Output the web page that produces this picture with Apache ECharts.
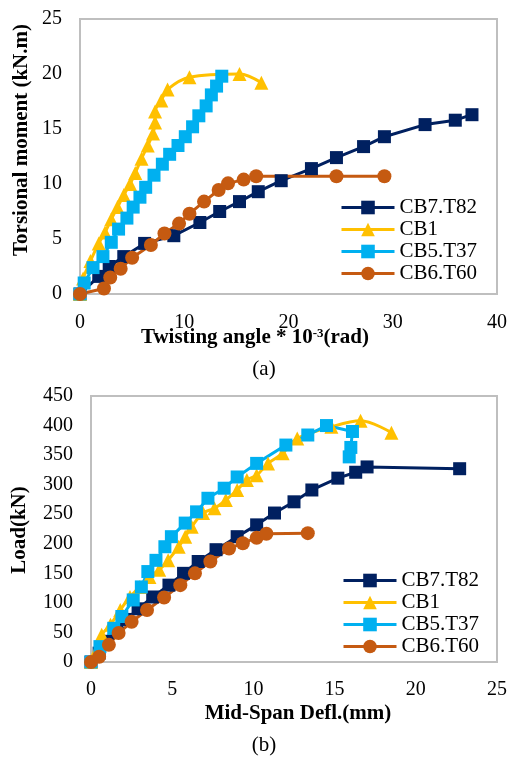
<!DOCTYPE html>
<html>
<head>
<meta charset="utf-8">
<script src="https://cdn.jsdelivr.net/npm/echarts@6/dist/echarts.min.js"></script>
<style>
html, body {margin: 0; padding: 0; background: #fff;}
#chart {width: 511px; height: 758px;}
</style>
</head>
<body>
<div id="chart"></div>
<script>
// (a) 扭矩 - 扭转角
var torCB7x = [0, 1.8, 2.8, 4.2, 6.2, 9.0, 11.5, 13.4, 15.3, 17.1, 19.3, 22.2, 24.6, 27.2, 29.2, 33.1, 36.0, 37.6];
var torCB7y = [0, 1.6, 2.5, 3.4, 4.6, 5.3, 6.5, 7.5, 8.4, 9.3, 10.3, 11.4, 12.4, 13.4, 14.3, 15.4, 15.8, 16.3];
var torCB1x = [0, 0.3, 1.0, 1.8, 2.4, 3.0, 3.6, 4.2, 4.8, 5.3, 5.9, 6.5, 7.0, 7.2, 7.2, 7.8, 8.4, 10.5, 15.3, 17.4];
var torCB1y = [0, 1.4, 3.0, 4.6, 5.6, 6.8, 7.9, 9.0, 10.0, 11.0, 12.3, 13.5, 14.6, 15.6, 16.6, 17.6, 18.6, 19.7, 20.0, 19.2];
var torCB5x = [0, 0.4, 1.25, 2.2, 3.0, 3.7, 4.5, 5.1, 5.75, 6.3, 7.1, 7.9, 8.6, 9.4, 10.1, 10.8, 11.4, 12.1, 12.6, 13.1, 13.6];
var torCB5y = [0, 1.0, 2.4, 3.4, 4.7, 5.9, 6.9, 7.9, 8.8, 9.7, 10.8, 11.8, 12.7, 13.5, 14.3, 15.2, 16.2, 17.1, 18.1, 18.9, 19.8];
var torCB6x = [0, 2.3, 2.9, 3.9, 5.0, 6.8, 8.1, 9.5, 10.5, 11.9, 13.3, 14.2, 15.7, 16.9, 24.6, 29.2];
var torCB6y = [0, 0.5, 1.5, 2.3, 3.3, 4.45, 5.5, 6.4, 7.3, 8.4, 9.45, 10.06, 10.4, 10.7, 10.7, 10.7];

// (b) 荷载 - 跨中挠度
var ldCB7x = [0, 0.5, 1.0, 1.6, 2.2, 2.9, 3.8, 4.8, 5.7, 6.6, 7.7, 9.0, 10.2, 11.3, 12.5, 13.6, 15.2, 16.3, 17.0, 22.7];
var ldCB7y = [0, 15, 35, 55, 72, 90, 110, 130, 150, 170, 190, 212, 232, 252, 271, 291, 311, 321, 330, 327];
var ldCB1x = [0, 0.3, 0.66, 1.2, 1.8, 2.4, 3.0, 3.6, 4.2, 4.75, 5.4, 5.8, 6.2, 6.9, 7.6, 8.3, 9.0, 9.6, 10.2, 10.9, 11.8, 12.7, 14.8, 16.6, 18.5];
var ldCB1y = [0, 17, 46, 63, 88, 110, 127, 144, 156, 172, 195, 212, 229, 252, 260, 274, 291, 308, 316, 336, 353, 378, 398, 408, 388];
var ldCB5x = [0, 0.55, 1.4, 1.9, 2.6, 3.1, 3.5, 4.0, 4.55, 4.95, 5.8, 6.5, 7.2, 8.2, 9.0, 10.2, 12.0, 13.35, 14.5, 16.1, 16.0, 15.9];
var ldCB5y = [0, 26, 57, 77, 105, 127, 153, 172, 195, 212, 235, 254, 277, 294, 313, 336, 367, 384, 400, 390, 363, 347];
var ldCB6x = [0, 0.5, 1.1, 1.7, 2.5, 3.45, 4.5, 5.5, 6.4, 7.35, 8.5, 9.35, 10.2, 10.8, 13.35];
var ldCB6y = [0, 9, 29, 49, 68, 88, 109, 130, 150, 170, 192, 201, 210, 217, 218];

var names = ['CB7.T82', 'CB1', 'CB5.T37', 'CB6.T60'];
var colors = ['#002060', '#FFC000', '#00B0F0', '#C55A11'];
var symbols = ['rect', 'triangle', 'rect', 'circle'];
var symSizes = [13, 14, 13, 14];

var torX = [0, 10, 20, 30, 40];
var torY = [0, 5, 10, 15, 20, 25];
var ldX = [0, 5, 10, 15, 20, 25];
var ldY = [0, 50, 100, 150, 200, 250, 300, 350, 400, 450];

var font = '"Liberation Serif", "Times New Roman", serif';

function zip(xs, ys) {
    return xs.map(function (x, i) { return [x, ys[i]]; });
}

function makeSeries(i, xs, ys, gridIdx) {
    return {
        name: names[i],
        type: 'line',
        xAxisIndex: gridIdx,
        yAxisIndex: gridIdx,
        data: zip(xs, ys),
        smooth: names[i] === 'CB1' ? 0.35 : false,
        symbol: symbols[i],
        symbolSize: symSizes[i],
        showAllSymbol: true,
        color: colors[i],
        lineStyle: {width: 3, color: colors[i]},
        itemStyle: {color: colors[i]},
        emphasis: {disabled: true},
        animation: false
    };
}

function valAxis(arr, gridIdx, labelMargin) {
    return {
        type: 'value',
        gridIndex: gridIdx,
        min: arr[0],
        max: arr[arr.length - 1],
        interval: arr[1] - arr[0],
        axisLine: {show: false},
        axisTick: {show: false},
        splitLine: {show: false},
        axisLabel: {fontFamily: font, fontSize: 20, color: '#000', margin: labelMargin}
    };
}

function legendAt(left, top) {
    return {
        data: names,
        orient: 'vertical',
        left: left,
        top: top,
        itemWidth: 53,
        itemHeight: 17,
        itemGap: 1,
        padding: 0,
        selectedMode: false,
        lineStyle: {width: 3},
        textStyle: {fontFamily: font, fontSize: 21, color: '#000', lineHeight: 21}
    };
}

var chart = echarts.init(document.getElementById('chart'), null, {renderer: 'canvas'});

var option = {
    backgroundColor: '#fff',
    animation: false,
    grid: [
        {left: 80, top: 19, width: 417, height: 275, show: true, borderColor: '#bfbfbf', borderWidth: 2, containLabel: false},
        {left: 91, top: 396, width: 406, height: 266, show: true, borderColor: '#bfbfbf', borderWidth: 2, containLabel: false}
    ],
    xAxis: [valAxis(torX, 0, 19), valAxis(ldX, 1, 18)],
    yAxis: [valAxis(torY, 0, 18), valAxis(ldY, 1, 18)],
    legend: [legendAt(340, 197), legendAt(342, 570)],
    series: [
        makeSeries(0, torCB7x, torCB7y, 0),
        makeSeries(1, torCB1x, torCB1y, 0),
        makeSeries(2, torCB5x, torCB5y, 0),
        makeSeries(3, torCB6x, torCB6y, 0),
        makeSeries(0, ldCB7x, ldCB7y, 1),
        makeSeries(1, ldCB1x, ldCB1y, 1),
        makeSeries(2, ldCB5x, ldCB5y, 1),
        makeSeries(3, ldCB6x, ldCB6y, 1)
    ],
    graphic: [
        {
            type: 'text', x: 22, y: 140, rotation: Math.PI / 2,
            style: {text: 'Torsional moment (kN.m)', fontFamily: font, fontSize: 21, fontWeight: 'bold',
                fill: '#000', align: 'center', verticalAlign: 'middle'}
        },
        {
            type: 'text', x: 255, y: 338,
            style: {
                text: 'Twisting angle * 10{s|-3}(rad)', fontFamily: font, fontSize: 21, fontWeight: 'bold',
                fill: '#000', align: 'center', verticalAlign: 'middle', lineHeight: 21,
                rich: {s: {fontFamily: font, fontSize: 13, fontWeight: 'bold', fill: '#000', verticalAlign: 'top', lineHeight: 13}}
            }
        },
        {
            type: 'text', x: 264, y: 369,
            style: {text: '(a)', fontFamily: font, fontSize: 21, fill: '#000', align: 'center', verticalAlign: 'middle'}
        },
        {
            type: 'text', x: 20, y: 530, rotation: Math.PI / 2,
            style: {text: 'Load(kN)', fontFamily: font, fontSize: 21, fontWeight: 'bold',
                fill: '#000', align: 'center', verticalAlign: 'middle'}
        },
        {
            type: 'text', x: 298, y: 714,
            style: {text: 'Mid-Span Defl.(mm)', fontFamily: font, fontSize: 21, fontWeight: 'bold',
                fill: '#000', align: 'center', verticalAlign: 'middle'}
        },
        {
            type: 'text', x: 264, y: 745,
            style: {text: '(b)', fontFamily: font, fontSize: 21, fill: '#000', align: 'center', verticalAlign: 'middle'}
        }
    ]
};

chart.setOption(option);
</script>
</body>
</html>
